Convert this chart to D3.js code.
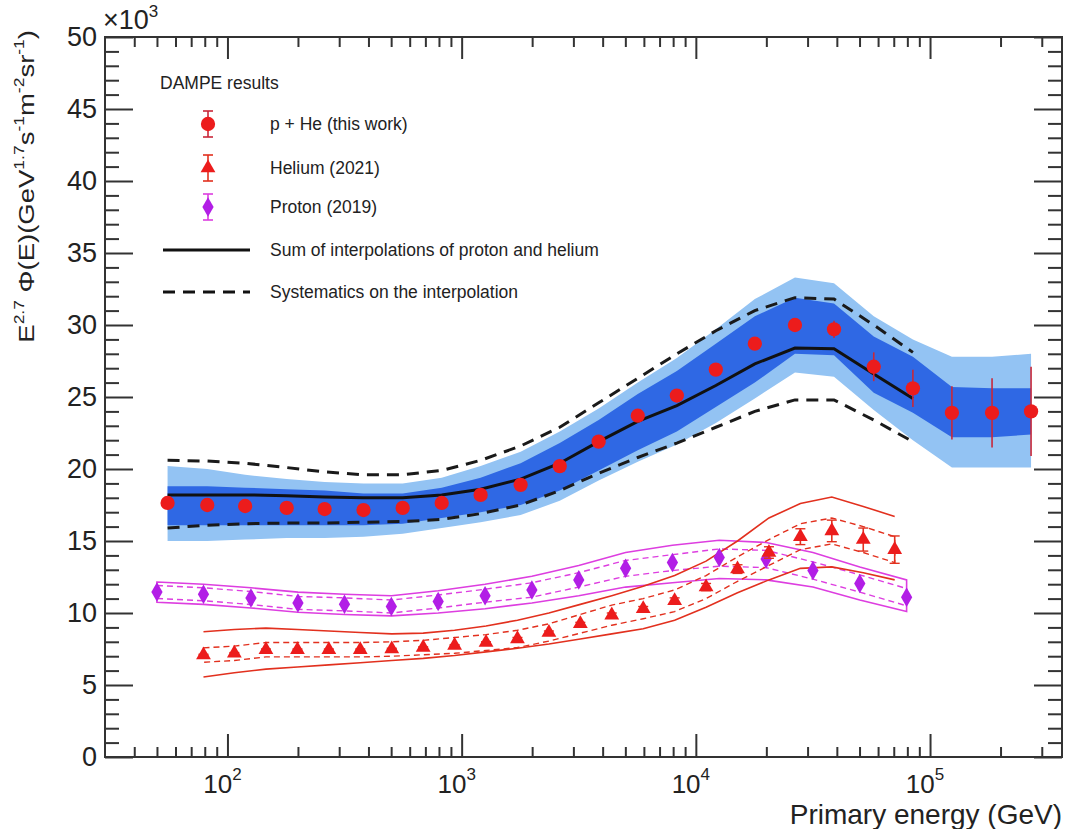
<!DOCTYPE html>
<html>
<head>
<meta charset="utf-8">
<script src="https://cdn.jsdelivr.net/npm/d3@7"></script>
<style>
  body { margin: 0; background: #fff; }
  svg { display: block; }
  text { font-family: "Liberation Sans", Arial, Helvetica, sans-serif; fill: #222; }
</style>
</head>
<body>
<svg id="chart" width="1067" height="829"></svg>
<script>
// ---- data (units: x10^3 GeV^1.7 s^-1 m^-2 sr^-1) ----
var pheE = [55.5, 82, 119, 179, 260, 381, 560, 822, 1205, 1786, 2624, 3846, 5650, 8296,
            12170, 17860, 26500, 38900, 57500, 84500, 124000, 184000, 270000];
var pheFlux = [17.64, 17.5, 17.43, 17.3, 17.22, 17.15, 17.3, 17.64, 18.2, 18.9, 20.2, 21.9, 23.7, 25.1,
               26.9, 28.7, 30.0, 29.7, 27.1, 25.6, 23.9, 23.9, 24.0];
var pheErr = [0.1, 0.1, 0.1, 0.1, 0.1, 0.1, 0.12, 0.15, 0.15, 0.2, 0.2, 0.25, 0.25, 0.3,
              0.3, 0.35, 0.45, 0.6, 1.0, 1.3, 1.85, 2.4, 3.1];
var pheDarkLo = [16.1, 16.1, 16.1, 16.1, 16.1, 16.1, 16.2, 16.6, 17.0, 17.5, 18.5, 19.9, 21.3, 22.6,
                 24.3, 26.0, 28.0, 27.9, 25.3, 23.9, 22.2, 22.2, 22.4];
var pheDarkHi = [18.8, 18.8, 18.7, 18.6, 18.5, 18.3, 18.3, 18.7, 19.4, 20.4, 21.8, 23.4, 25.2, 26.8,
                 28.7, 30.6, 31.9, 31.5, 29.2, 27.8, 25.7, 25.6, 25.6];
var pheLightLo = [15.0, 15.0, 15.1, 15.2, 15.2, 15.3, 15.5, 15.9, 16.3, 16.8, 17.8, 19.2, 20.5, 21.7,
                  23.2, 24.9, 26.7, 26.4, 24.1, 22.0, 20.1, 20.1, 20.1];
var pheLightHi = [20.2, 20.0, 19.6, 19.3, 19.1, 19.0, 19.0, 19.4, 20.2, 21.2, 22.6, 24.2, 26.0, 27.7,
                  29.7, 31.8, 33.3, 32.9, 30.6, 29.0, 27.8, 27.8, 28.0];

// sum of proton + helium interpolations, on the first 20 energies
var sumFlux = [18.2, 18.2, 18.2, 18.15, 18.05, 18.0, 18.0, 18.2, 18.6, 19.3, 20.4, 21.9, 23.3, 24.4,
               25.8, 27.3, 28.4, 28.35, 26.6, 24.9];
var sumSysHi = [20.6, 20.55, 20.4, 20.1, 19.8, 19.6, 19.6, 19.9, 20.6, 21.6, 22.9, 24.6, 26.3, 28.0,
                29.6, 31.0, 31.9, 31.8, 30.0, 28.1];
var sumSysLo = [15.9, 16.1, 16.2, 16.25, 16.25, 16.3, 16.35, 16.5, 16.9, 17.5, 18.5, 19.7, 20.8, 21.8,
                22.9, 24.0, 24.8, 24.8, 23.4, 21.9];

var protonE = [50, 79, 126, 200, 316, 501, 794, 1259, 1995, 3162, 5012, 7943, 12589, 19953, 31623, 50119, 79433];
var protonFlux = [11.46, 11.3, 11.04, 10.7, 10.6, 10.45, 10.8, 11.2, 11.6, 12.3, 13.1, 13.5, 13.85, 13.75, 12.95, 12.05, 11.1];
var protonErr = [0.05, 0.05, 0.05, 0.05, 0.05, 0.05, 0.05, 0.05, 0.05, 0.05, 0.1, 0.1, 0.15, 0.2, 0.25, 0.3, 0.4];
var protonSys = [0.45, 0.45, 0.45, 0.45, 0.45, 0.45, 0.45, 0.45, 0.5, 0.5, 0.55, 0.55, 0.6, 0.6, 0.6, 0.6, 0.6];
var protonLo = [10.75, 10.6, 10.35, 10.05, 9.9, 9.8, 10.0, 10.3, 10.7, 11.2, 11.8, 12.1, 12.4, 12.3, 11.8, 10.9, 10.1];
var protonHi = [12.15, 12.0, 11.75, 11.45, 11.3, 11.2, 11.55, 12.0, 12.55, 13.3, 14.2, 14.7, 15.05, 14.9, 14.2, 13.2, 12.3];

var heliumE = [79, 107, 146, 199, 271, 369, 503, 685, 933, 1271, 1731, 2358, 3212, 4375,
               5960, 8118, 11058, 15063, 20518, 27949, 38071, 51860, 70642];
var heliumFlux = [7.08, 7.2, 7.45, 7.45, 7.45, 7.45, 7.5, 7.6, 7.75, 7.95, 8.2, 8.65, 9.25, 9.85,
                  10.3, 10.85, 11.8, 13.05, 14.2, 15.3, 15.7, 15.1, 14.4];
var heliumErr = [0.05, 0.05, 0.05, 0.05, 0.05, 0.05, 0.05, 0.05, 0.05, 0.05, 0.1, 0.1, 0.1, 0.15,
                 0.15, 0.2, 0.25, 0.3, 0.4, 0.55, 0.75, 0.8, 0.95];
var heliumSys = [0.5, 0.5, 0.5, 0.5, 0.5, 0.5, 0.5, 0.5, 0.55, 0.55, 0.6, 0.6, 0.65, 0.7,
                 0.7, 0.75, 0.8, 0.85, 0.9, 0.9, 0.9, 0.9, 0.9];
var heliumLo = [5.56, 5.85, 6.1, 6.25, 6.4, 6.55, 6.7, 6.85, 7.05, 7.3, 7.55, 7.85, 8.2, 8.55,
                8.9, 9.5, 10.4, 11.4, 12.3, 13.1, 13.2, 12.8, 12.3];
var heliumHi = [8.7, 8.85, 8.95, 8.85, 8.75, 8.65, 8.55, 8.6, 8.8, 9.1, 9.5, 10.0, 10.6, 11.2,
                11.85, 12.6, 13.6, 15.0, 16.6, 17.6, 18.05, 17.4, 16.7];

var xMajor = [1e2, 1e3, 1e4, 1e5];
var xMajorExp = ["2", "3", "4", "5"];
var xMinor = [40, 50, 60, 70, 80, 90, 200, 300, 400, 500, 600, 700, 800, 900,
              2000, 3000, 4000, 5000, 6000, 7000, 8000, 9000,
              20000, 30000, 40000, 50000, 60000, 70000, 80000, 90000, 200000, 300000];
var yMajor = [0, 5, 10, 15, 20, 25, 30, 35, 40, 45, 50];

// ---- layout ----
var svg = d3.select("#chart");
var L = 105, R = 1062, T = 37, B = 757;
var x = d3.scaleLog().domain([30, 366000]).range([L, R]);
var y = d3.scaleLinear().domain([0, 50]).range([B, T]);
var yMinor = d3.range(0, 51).filter(function (v) { return v % 5 !== 0; });

var RED = "#ec1c1c", ERR = "#c8283a", PURPLE = "#b21ee6", MAG = "#dd3ee0", HRED = "#e2301e";
var DARK = "#2f68e4", LIGHT = "#93c3f3";

function pts(es, vs) { return es.map(function (e, i) { return [x(e), y(vs[i])]; }); }
var line = d3.line();
var plot = svg.append("g");

// p+He bands
function band(lo, hi, color) {
  plot.append("path")
    .attr("d", d3.area().x(function (d, i) { return x(pheE[i]); })
      .y0(function (d, i) { return y(lo[i]); })
      .y1(function (d, i) { return y(hi[i]); })(pheE))
    .attr("fill", color);
}
band(pheLightLo, pheLightHi, LIGHT);
band(pheDarkLo, pheDarkHi, DARK);

var sumE = pheE.slice(0, sumFlux.length);
[sumSysHi, sumSysLo].forEach(function (s) {
  plot.append("path").attr("d", line(pts(sumE, s)))
    .attr("fill", "none").attr("stroke", "#1a1a1a").attr("stroke-width", 3)
    .attr("stroke-dasharray", "12,8");
});
plot.append("path").attr("d", line(pts(sumE, sumFlux)))
  .attr("fill", "none").attr("stroke", "#111").attr("stroke-width", 3);

// proton: outer closed band, inner dashed closed band
function closedBand(es, lo, hi) {
  return line(pts(es, hi).concat(pts(es, lo).reverse())) + "Z";
}
var pInnerLo = protonFlux.map(function (v, i) { return v - protonSys[i]; });
var pInnerHi = protonFlux.map(function (v, i) { return v + protonSys[i]; });
plot.append("path").attr("d", closedBand(protonE, protonLo, protonHi))
  .attr("fill", "none").attr("stroke", MAG).attr("stroke-width", 1.6);
plot.append("path").attr("d", closedBand(protonE, pInnerLo, pInnerHi))
  .attr("fill", "none").attr("stroke", MAG).attr("stroke-width", 1.4).attr("stroke-dasharray", "6,4");

// helium: two open solid lines, inner dashed closed band
var hInnerLo = heliumFlux.map(function (v, i) { return v - heliumSys[i]; });
var hInnerHi = heliumFlux.map(function (v, i) { return v + heliumSys[i]; });
[heliumLo, heliumHi].forEach(function (s) {
  plot.append("path").attr("d", line(pts(heliumE, s)))
    .attr("fill", "none").attr("stroke", HRED).attr("stroke-width", 1.6);
});
plot.append("path").attr("d", closedBand(heliumE, hInnerLo, hInnerHi))
  .attr("fill", "none").attr("stroke", HRED).attr("stroke-width", 1.4).attr("stroke-dasharray", "6,4");

// error bars + markers
function errBars(es, vs, errs, color, cap) {
  es.forEach(function (e, i) {
    var cx = x(e), y0 = y(vs[i] - errs[i]), y1 = y(vs[i] + errs[i]);
    plot.append("line").attr("x1", cx).attr("x2", cx).attr("y1", y0).attr("y2", y1)
      .attr("stroke", color).attr("stroke-width", 1.6);
    if (cap) {
      [y0, y1].forEach(function (yy) {
        plot.append("line").attr("x1", cx - 5).attr("x2", cx + 5).attr("y1", yy).attr("y2", yy)
          .attr("stroke", color).attr("stroke-width", 1.4);
      });
    }
  });
}
function markers(es, vs, type, size, color) {
  plot.selectAll(null).data(es).enter().append("path")
    .attr("d", d3.symbol().type(type).size(size))
    .attr("transform", function (e, i) { return "translate(" + x(e) + "," + y(vs[i]) + ")"; })
    .attr("fill", color);
}
errBars(protonE, protonFlux, protonErr, MAG, false);
markers(protonE, protonFlux, d3.symbolDiamond, 110, PURPLE);
errBars(heliumE, heliumFlux, heliumErr, HRED, true);
markers(heliumE, heliumFlux, d3.symbolTriangle, 95, RED);
errBars(pheE, pheFlux, pheErr, ERR, false);
markers(pheE, pheFlux, d3.symbolCircle, 160, RED);

// ---- axes ----
function styleAxis(g) {
  g.select(".domain").remove();
  g.selectAll("line").attr("stroke", "#333").attr("stroke-width", 2);
}
svg.append("g").attr("transform", "translate(0," + B + ")")
  .call(d3.axisBottom(x).tickValues(xMinor).tickSize(-10).tickFormat("")).call(styleAxis);
svg.append("g").attr("transform", "translate(0," + B + ")")
  .call(d3.axisBottom(x).tickValues(xMajor).tickSize(-23).tickFormat("")).call(styleAxis);
svg.append("g").attr("transform", "translate(0," + T + ")")
  .call(d3.axisTop(x).tickValues(xMinor).tickSize(-10).tickFormat("")).call(styleAxis);
svg.append("g").attr("transform", "translate(0," + T + ")")
  .call(d3.axisTop(x).tickValues(xMajor).tickSize(-22).tickFormat("")).call(styleAxis);

svg.append("g").attr("transform", "translate(" + L + ",0)")
  .call(d3.axisLeft(y).tickValues(yMinor).tickSize(-14).tickFormat("")).call(styleAxis);
var yAx = svg.append("g").attr("transform", "translate(" + L + ",0)")
  .call(d3.axisLeft(y).tickValues(yMajor).tickSize(-28).tickPadding(8)).call(styleAxis);
yAx.selectAll("text").attr("font-size", 27).attr("fill", "#222")
  .attr("font-family", "'Liberation Sans', Arial, sans-serif");
svg.append("g").attr("transform", "translate(" + R + ",0)")
  .call(d3.axisRight(y).tickValues(yMinor).tickSize(-14).tickFormat("")).call(styleAxis);
svg.append("g").attr("transform", "translate(" + R + ",0)")
  .call(d3.axisRight(y).tickValues(yMajor).tickSize(-28).tickFormat("")).call(styleAxis);

svg.append("rect").attr("x", L).attr("y", T).attr("width", R - L).attr("height", B - T)
  .attr("fill", "none").attr("stroke", "#333").attr("stroke-width", 2);

// x tick labels 10^n
xMajor.forEach(function (v, i) {
  var t = svg.append("text").attr("x", x(v) - 5).attr("y", 793).attr("text-anchor", "middle")
    .attr("font-size", 26);
  t.append("tspan").text("10");
  t.append("tspan").attr("dy", -13).attr("font-size", 17).text(xMajorExp[i]);
});

// x10^3 multiplier
var mult = svg.append("text").attr("x", 103).attr("y", 29).attr("font-size", 27);
mult.append("tspan").text("×10");
mult.append("tspan").attr("dy", -12).attr("font-size", 17).text("3");

// axis titles
svg.append("text").attr("x", R).attr("y", 824).attr("text-anchor", "end")
  .attr("font-size", 28).text("Primary energy (GeV)");

var yt = svg.append("text").attr("transform", "translate(34,30) rotate(-90) scale(1.25,1)")
  .attr("text-anchor", "end").attr("font-size", 22);
var parts = [["E", 0], ["2.7", 1], [" Φ(E)(GeV", 0], ["1.7", 1], ["s", 0], ["-1", 1],
             ["m", 0], ["-2", 1], ["sr", 0], ["-1", 1], [")", 0]];
var lvl = 0;
parts.forEach(function (p) {
  var s = yt.append("tspan").text(p[0]);
  if (p[1] !== lvl) { s.attr("dy", p[1] ? -10 : 10); lvl = p[1]; }
  if (p[1]) s.attr("font-size", 14);
});

// ---- legend ----
var lg = svg.append("g").attr("font-size", 17.5);
lg.append("text").attr("x", 160).attr("y", 89).text("DAMPE results").attr("fill", "#333");
var legRows = [
  { label: "p + He (this work)", y: 124, sym: d3.symbolCircle, size: 160, col: RED, err: ERR },
  { label: "Helium (2021)", y: 168, sym: d3.symbolTriangle, size: 95, col: RED, err: HRED },
  { label: "Proton (2019)", y: 207, sym: d3.symbolDiamond, size: 110, col: PURPLE, err: MAG }
];
legRows.forEach(function (r) {
  var b0 = r.y - 13, b1 = r.y + 13;
  lg.append("line").attr("x1", 208).attr("x2", 208).attr("y1", b0).attr("y2", b1)
    .attr("stroke", r.err).attr("stroke-width", 1.6);
  [b0, b1].forEach(function (yy) {
    lg.append("line").attr("x1", 203).attr("x2", 213).attr("y1", yy).attr("y2", yy)
      .attr("stroke", r.err).attr("stroke-width", 1.6);
  });
  lg.append("path").attr("d", d3.symbol().type(r.sym).size(r.size)())
    .attr("transform", "translate(208," + r.y + ")").attr("fill", r.col);
  lg.append("text").attr("x", 270).attr("y", r.y + 6).text(r.label);
});
lg.append("line").attr("x1", 163).attr("x2", 250).attr("y1", 250).attr("y2", 250)
  .attr("stroke", "#111").attr("stroke-width", 3);
lg.append("text").attr("x", 270).attr("y", 256).text("Sum of interpolations of proton and helium");
lg.append("line").attr("x1", 163).attr("x2", 250).attr("y1", 292).attr("y2", 292)
  .attr("stroke", "#111").attr("stroke-width", 3).attr("stroke-dasharray", "12,8");
lg.append("text").attr("x", 270).attr("y", 298).text("Systematics on the interpolation");
</script>
</body>
</html>
